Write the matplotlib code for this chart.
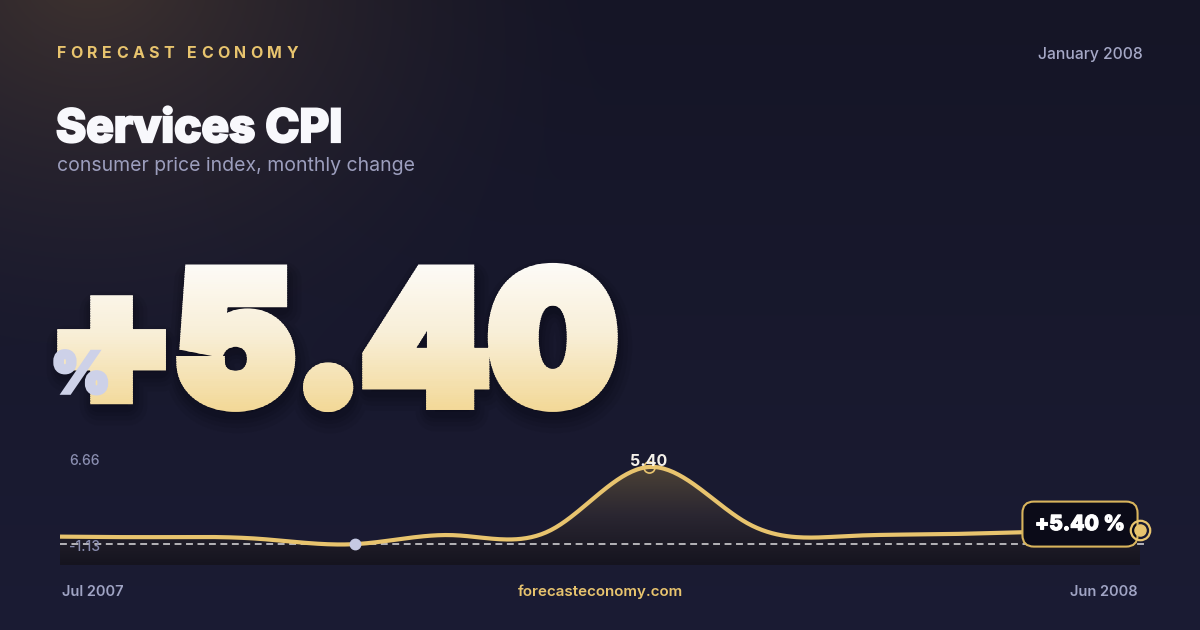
import numpy as np
import matplotlib
matplotlib.use("Agg")
import matplotlib.pyplot as plt
import matplotlib.patheffects as pe
from matplotlib.patches import Polygon
from matplotlib.transforms import Bbox, Affine2D
from matplotlib.colors import LinearSegmentedColormap

# ----------------------------------------------------------------------------------------------------------------------
# data
months = ["Jul 2007", "Aug 2007", "Sep 2007", "Oct 2007", "Nov 2007", "Dec 2007",
          "Jan 2008", "Feb 2008", "Mar 2008", "Apr 2008", "May 2008", "Jun 2008"]
values = [-0.37, -0.42, -0.57, -1.13, -0.22, 0.29, 6.66, 0.99, -0.32, -0.12, 0.13, 0.29]
headline = "+5.40"
peak_label = "5.40"
end_label = "+5.40 %"

W, H = 1200, 630
GOLD = "#e8c46e"
FONT = "Inter"

# ----------------------------------------------------------------------------------------------------------------------
def natural_spline(x, y, n=40):
    # natural cubic spline through the points, only used to draw the smooth line
    x = np.asarray(x, float)
    y = np.asarray(y, float)
    k = len(x)
    h = np.diff(x)
    A = np.zeros((k, k))
    r = np.zeros(k)
    A[0, 0] = A[-1, -1] = 1
    for i in range(1, k - 1):
        A[i, i - 1] = h[i - 1]
        A[i, i] = 2 * (h[i - 1] + h[i])
        A[i, i + 1] = h[i]
        r[i] = 6 * ((y[i + 1] - y[i]) / h[i] - (y[i] - y[i - 1]) / h[i - 1])
    M = np.linalg.solve(A, r)
    xs, ys = [], []
    for i in range(k - 1):
        t = np.linspace(x[i], x[i + 1], n, endpoint=False)
        a = (x[i + 1] - t) / h[i]
        b = (t - x[i]) / h[i]
        s = (a * y[i] + b * y[i + 1]
             + ((a**3 - a) * M[i] + (b**3 - b) * M[i + 1]) * h[i] ** 2 / 6)
        xs.append(t)
        ys.append(s)
    xs.append([x[-1]])
    ys.append([y[-1]])
    return np.concatenate(xs), np.concatenate(ys)


class GradientText(pe.AbstractPathEffect):
    """Draws the glyphs with a soft drop shadow, a thick stroke and a vertical colour gradient."""

    def __init__(self, colors, y_top, y_bot, lw, bands=70, shadows=()):
        super().__init__()
        self.cm = LinearSegmentedColormap.from_list("g", colors)
        self.y_top, self.y_bot = H - y_top, H - y_bot      # display coords (origin bottom)
        self.lw = lw
        self.bands = bands
        self.shadows = shadows

    def draw_path(self, renderer, gc, tpath, affine, rgbFace=None):
        for dx, dy, a, lw in self.shadows:
            g = renderer.new_gc()
            g.copy_properties(gc)
            g.set_foreground((0, 0, 0, a))
            g.set_alpha(a)
            g.set_linewidth(lw)
            g.set_joinstyle("round")
            renderer.draw_path(g, tpath, affine + Affine2D().translate(dx, -dy), (0, 0, 0, a))
            g.restore()
        edges = np.linspace(self.y_top, self.y_bot, self.bands + 1)
        for i in range(self.bands):
            c = self.cm(i / (self.bands - 1))
            g = renderer.new_gc()
            g.copy_properties(gc)
            g.set_foreground(c)
            g.set_linewidth(self.lw)
            g.set_joinstyle("miter")
            g.set_clip_rectangle(Bbox([[0, edges[i + 1] - 0.5], [W, edges[i] + 0.5]]))
            renderer.draw_path(g, tpath, affine, c)
            g.restore()


def spaced(ax, x, y, s, color, track, size):
    # letter-spaced caps, one glyph at a time
    r = ax.figure.canvas.get_renderer()
    for ch in s:
        t = ax.text(x, y, ch, family=FONT, weight="bold", fontsize=size, color=color,
                    va="center", ha="left")
        w = t.get_window_extent(r).width if ch != " " else 4
        x += w + track


# ----------------------------------------------------------------------------------------------------------------------
fig = plt.figure(figsize=(12, 6.3), dpi=100)
bg = fig.add_axes([0, 0, 1, 1])
bg.axis("off")

# background: navy with warm glow top-left
yy, xx = np.mgrid[0:H, 0:W]
base_top = np.array([21, 21, 38]) / 255
base_bot = np.array([27, 28, 52]) / 255
f = (yy / H)[..., None]
img = base_top * (1 - f) + base_bot * f
r = np.sqrt((xx - 90) ** 2 + ((yy + 30) / 0.8) ** 2)
glow = np.clip(1 - r / 540, 0, 1) ** 1.6
img = img + glow[..., None] * (np.array([42, 30, 10]) / 255)
bg.imshow(np.clip(img, 0, 1), extent=[0, W, H, 0], zorder=0, aspect="auto")
bg.set_xlim(0, W)
bg.set_ylim(H, 0)

# header texts
spaced(bg, 57, 53, "FORECAST ECONOMY", GOLD, 4.4, 11.5)
bg.text(1143, 54, "January 2008", family=FONT, fontsize=11.3, color="#a5a8c6",
        ha="right", va="center", weight="medium")
bg.text(56, 142, "Services CPI", family=FONT, fontsize=33, color="#f8f8fc",
        ha="left", va="baseline", weight="heavy",
        path_effects=[pe.Stroke(linewidth=1.6, foreground="#f8f8fc", joinstyle="miter"),
                      pe.Normal()])
bg.text(57, 166, "consumer price index, monthly change", family=FONT, fontsize=14,
        color="#9c9ebd", ha="left", va="center")

# big headline number
bg.text(49, 403, headline, family=FONT, weight="black", fontsize=130, color="#f6e6bb",
        ha="left", va="baseline", zorder=3,
        path_effects=[GradientText(["#fdfcfa", "#f8eed6", "#f2d794"], 255, 416, 10,
                                   shadows=[(2, 9, 0.05, 28), (2, 8, 0.06, 22),
                                            (1, 7, 0.07, 17), (1, 6, 0.08, 13)])])

bg.text(51, 393, "%", family=FONT, weight="black", fontsize=41, color="#cdd1e8",
        ha="left", va="baseline", zorder=4,
        path_effects=[pe.Stroke(linewidth=2.6, foreground="#cdd1e8", joinstyle="miter"),
                      pe.Normal()])

# footer
bg.text(62, 592, months[0], family=FONT, fontsize=10.5, color="#a0a4c4", ha="left",
        va="center", weight="semibold")
bg.text(1138, 592, months[-1], family=FONT, fontsize=10.5, color="#a0a4c4", ha="right",
        va="center", weight="semibold")
bg.text(600, 592, "forecasteconomy.com", family=FONT, fontsize=10.9, color=GOLD,
        ha="center", va="center", weight="semibold")

# ----------------------------------------------------------------------------------------------------------------------
# sparkline chart
vmin, vmax = min(values), max(values)
span = vmax - vmin
ylo, yhi = vmin - span * 0.27, vmax + span * 0.155
top_px, bot_px = 455, 565
ax = fig.add_axes([60 / W, 1 - bot_px / H, 1080 / W, (bot_px - top_px) / H])
ax.axis("off")
ax.patch.set_alpha(0)

xi = np.arange(len(values))
sx, sy = natural_spline(xi, values)

poly = Polygon(np.column_stack([np.r_[sx, sx[-1], sx[0]], np.r_[sy, ylo, ylo]]),
               closed=True, facecolor="none", edgecolor="none")
ax.add_patch(poly)
fill_cm = LinearSegmentedColormap.from_list("f", ["#4c4236", "#2a2631", "#15141f"])
fi = ax.imshow(np.linspace(0, 1, 256)[:, None], cmap=fill_cm, aspect="auto",
               extent=[0, len(values) - 1, ylo, vmax], zorder=1)
fi.set_clip_path(poly)
ax.set_xlim(0, len(values) - 1)
ax.set_ylim(ylo, yhi)

ax.plot([0, len(values) - 1 + 0.06], [vmin, vmin], color="white", lw=1.1, alpha=0.85,
        dashes=(4.5, 3), zorder=2, clip_on=False)
ax.plot(sx, sy, color=GOLD, lw=3, solid_capstyle="butt", zorder=3)

imin = int(np.argmin(values))
imax = int(np.argmax(values))
ax.plot(imin, values[imin], "o", ms=7.5, color="#c5c9e3", zorder=4, clip_on=False)
ax.plot(imax, values[imax], "o", ms=8, mfc="none", mec=GOLD, mew=1.2, zorder=4, clip_on=False)
ax.annotate(peak_label, (imax, values[imax]), xytext=(0, 4), textcoords="offset points",
            ha="center", va="center", family=FONT, weight="bold", fontsize=11.5,
            color="#f4f1ea", zorder=5)

ax.annotate(f"{vmax:.2f}", (0, vmax), xytext=(9, 6), textcoords="offset pixels",
            ha="left", va="center", family=FONT, fontsize=10, color="#8a8eb0", weight="medium")
ax.annotate(f"{vmin:.2f}", (0, vmin), xytext=(9, -3), textcoords="offset pixels",
            ha="left", va="center", family=FONT, fontsize=10, color="#8a8eb0", weight="medium")

# end marker and label box
xe, ye = len(values) - 1, values[-1]
ax.annotate(end_label, (xe, ye), xytext=(-60, 6), textcoords="offset pixels",
            ha="center", va="center", family=FONT, weight="heavy", fontsize=15,
            color="white", zorder=6,
            path_effects=[pe.Stroke(linewidth=0.9, foreground="white"), pe.Normal()],
            bbox=dict(boxstyle="round,pad=0.6,rounding_size=0.55", fc="#0b0b18",
                      ec="#d8b45c", lw=1.5))
ax.plot(xe, ye, "o", ms=14, mfc="none", mec=GOLD, mew=1.6, zorder=7, clip_on=False)
ax.plot(xe, ye, "o", ms=8, color=GOLD, zorder=7, clip_on=False)

fig.savefig("out.png", dpi=100)
